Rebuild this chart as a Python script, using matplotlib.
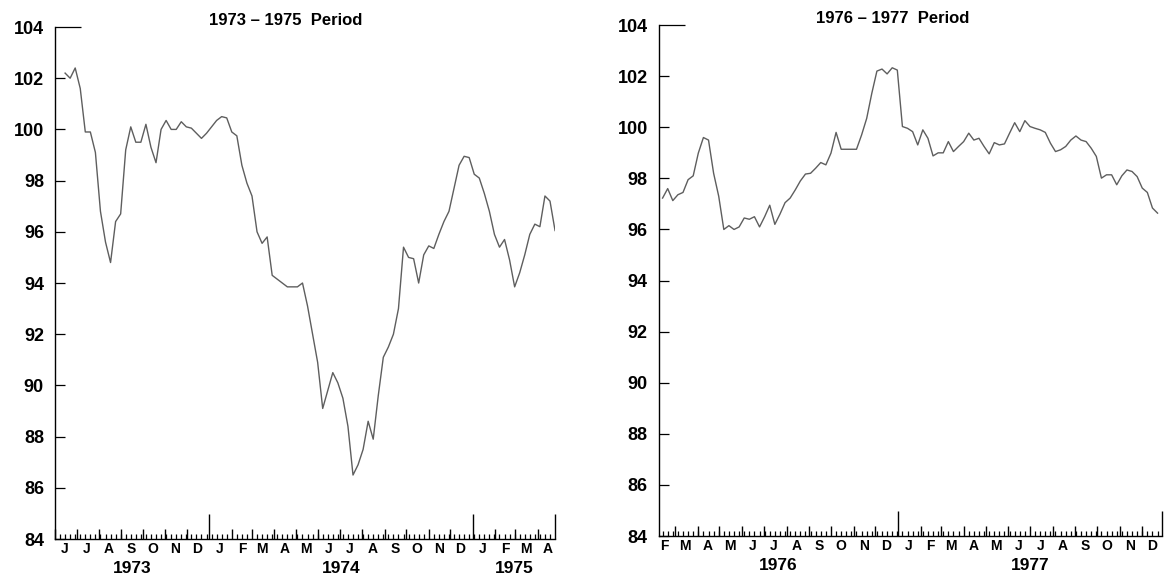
import pandas as pd
import matplotlib.pyplot as plt
import matplotlib.dates as mdates
from matplotlib.ticker import FixedLocator, NullFormatter

plt.rcParams['font.family'] = ['Liberation Sans', 'DejaVu Sans']

# weekly index, 1973-1975 panel
left_title = '1973 – 1975  Period'
left_first_week = '1973-06-15'
left_span = ('1973-06-01', '1975-04-25')
left_values = [
    102.2, 102.0, 102.4, 101.6, 99.9, 99.9, 99.1, 96.8, 95.6, 94.8,
    96.4, 96.7, 99.2, 100.1, 99.5, 99.5, 100.2, 99.3, 98.7, 100.0,
    100.35, 100.0, 100.0, 100.3, 100.1, 100.05, 99.85, 99.65, 99.85, 100.1,
    100.35, 100.5, 100.45, 99.9, 99.75, 98.6, 97.9, 97.4, 96.0, 95.55,
    95.8, 94.3, 94.15, 94.0, 93.85, 93.85, 93.85, 94.0, 93.1, 92.0,
    90.9, 89.1, 89.8, 90.5, 90.1, 89.5, 88.4, 86.5, 86.9, 87.5,
    88.6, 87.9, 89.6, 91.1, 91.5, 92.0, 93.0, 95.4, 95.0, 94.95,
    94.0, 95.1, 95.45, 95.35, 95.9, 96.4, 96.8, 97.7, 98.6, 98.95,
    98.9, 98.25, 98.1, 97.5, 96.8, 95.9, 95.4, 95.7, 94.9, 93.85,
    94.4, 95.1, 95.9, 96.3, 96.2, 97.4, 97.2, 96.05,
]

# weekly index, 1976-1977 panel
right_title = '1976 – 1977  Period'
right_first_week = '1976-02-13'
right_span = ('1976-02-08', '1977-12-29')
right_values = [
    97.23, 97.6, 97.13, 97.36, 97.45, 97.95, 98.1, 98.99, 99.6, 99.5,
    98.2, 97.3, 96.0, 96.15, 96.0, 96.1, 96.45, 96.4, 96.5, 96.1,
    96.5, 96.95, 96.2, 96.6, 97.05, 97.23, 97.55, 97.9, 98.17, 98.2,
    98.4, 98.62, 98.53, 98.99, 99.8, 99.14, 99.14, 99.14, 99.14, 99.7,
    100.35, 101.33, 102.2, 102.28, 102.09, 102.33, 102.24, 100.03, 99.96, 99.83,
    99.31, 99.9, 99.57, 98.88, 99.0, 99.0, 99.44, 99.05, 99.25, 99.44,
    99.77, 99.5, 99.57, 99.25, 98.96, 99.4, 99.31, 99.35, 99.77, 100.18,
    99.83, 100.26, 100.03, 99.96, 99.9, 99.8, 99.38, 99.05, 99.12, 99.25,
    99.5, 99.66, 99.5, 99.44, 99.18, 98.86, 98.01, 98.14, 98.14, 97.75,
    98.1, 98.33, 98.27, 98.07, 97.62, 97.45, 96.84, 96.64,
]

y_ticks = list(range(84, 105, 2))
month_letters = 'JFMAMJJASOND'


def draw_panel(ax, first_week, values, span, title, title_x):
    dates = pd.date_range(first_week, periods=len(values), freq='7D')
    lo, hi = pd.Timestamp(span[0]), pd.Timestamp(span[1])
    ax.plot(dates, values, color='#5e5e5e', lw=1.0)
    ax.set_xlim(lo, hi)
    ax.set_ylim(84, 104)

    for side in ['top', 'right']:
        ax.spines[side].set_visible(False)
    for side in ['left', 'bottom']:
        ax.spines[side].set_linewidth(1.0)

    # y axis
    ax.set_yticks(y_ticks)
    ax.tick_params(axis='y', direction='in', length=7, width=0.9, pad=8,
                   labelsize=13)
    for lab in ax.get_yticklabels():
        lab.set_fontweight('bold')
    ax.yaxis.get_major_ticks(len(y_ticks))[-1].tick1line.set_markersize(19)

    # x axis: weekly, monthly and yearly ticks
    month_starts = list(pd.date_range(lo, hi, freq='MS'))
    major = month_starts + [hi]
    offset = (pd.Timestamp(first_week) - lo).days % 7
    weeks = pd.date_range(lo + pd.Timedelta(days=offset), hi, freq='7D')
    ax.xaxis.set_major_locator(FixedLocator(mdates.date2num(major)))
    ax.xaxis.set_minor_locator(FixedLocator(mdates.date2num(list(weeks))))
    ax.xaxis.set_major_formatter(NullFormatter())
    ax.xaxis.set_minor_formatter(NullFormatter())
    ax.tick_params(axis='x', which='major', direction='in', length=7.5, width=1.0)
    ax.tick_params(axis='x', which='minor', direction='in', length=3.5, width=0.9)
    for d, tick in zip(major, ax.xaxis.get_major_ticks(len(major))):
        if (d.month == 1 and d.day == 1) or d == hi:
            tick.tick1line.set_markersize(18)

    # month letters at mid-month
    for m in pd.date_range(lo - pd.offsets.MonthBegin(1), hi, freq='MS'):
        mid = m + pd.Timedelta(days=14)
        if lo <= mid <= hi:
            ax.annotate(month_letters[m.month - 1], (mid, 0),
                        xycoords=('data', 'axes fraction'),
                        xytext=(0, -7.5), textcoords='offset points',
                        ha='center', va='center', fontsize=10,
                        fontweight='bold')

    # year labels centred on each year's visible part
    for year in range(lo.year, hi.year + 1):
        a = max(lo, pd.Timestamp(year, 1, 1))
        b = min(hi, pd.Timestamp(year, 12, 31))
        ax.annotate(str(year), (a + (b - a) / 2, 0),
                    xycoords=('data', 'axes fraction'),
                    xytext=(0, -21), textcoords='offset points',
                    ha='center', va='center', fontsize=12.5,
                    fontweight='bold')

    ax.annotate(title, (title_x, 1), xycoords='axes fraction',
                xytext=(0, 5), textcoords='offset points',
                ha='center', va='center', fontsize=12, fontweight='bold')


fig = plt.figure(figsize=(11.7, 5.76), dpi=100)
ax1 = fig.add_axes([0.047, 0.0642, 0.4274, 0.8889])
ax2 = fig.add_axes([0.5632, 0.0694, 0.4299, 0.887])

draw_panel(ax1, left_first_week, left_values, left_span, left_title, 0.462)
draw_panel(ax2, right_first_week, right_values, right_span, right_title, 0.465)

fig.savefig('out.png', dpi=100)
